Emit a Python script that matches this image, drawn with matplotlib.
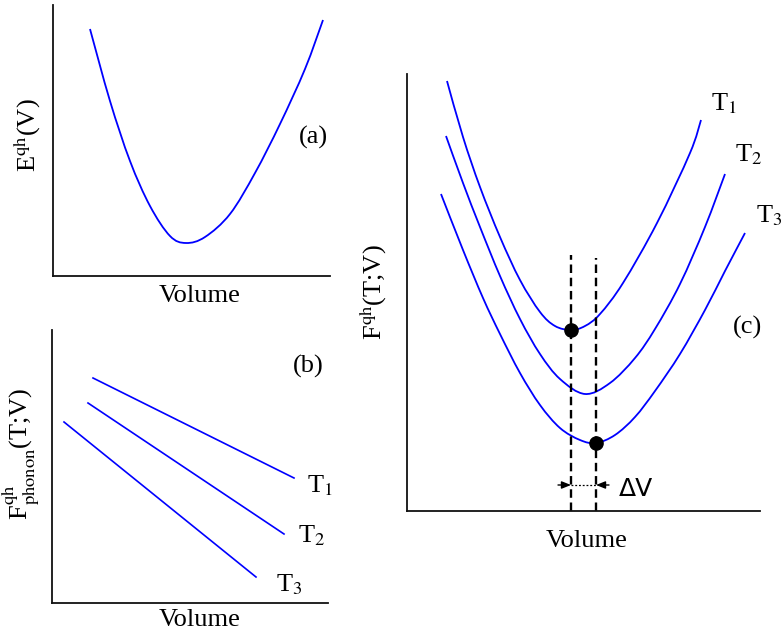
import matplotlib
matplotlib.use("Agg")
import matplotlib.pyplot as plt
from matplotlib.path import Path
from matplotlib.patches import PathPatch

plt.rcParams['font.family'] = ['Liberation Serif', 'DejaVu Serif']
plt.rcParams['mathtext.fontset'] = 'stix'

# ---------------- data (arbitrary units) ----------------
# Panel (a): quasi-harmonic energy vs volume
vol_a = [37, 57, 77, 97, 117, 133, 152, 177, 202, 227, 252, 270]
e_a   = [247, 175, 115, 70, 40, 33, 39, 62, 103, 152, 207, 256]

# Panel (b): phonon free energy (straight lines) for three temperatures
labels_T = ['1', '2', '3']
vol_b = [[41, 242], [36, 232], [12, 204]]
f_b   = [[225, 125], [200, 69], [181, 26]]

# Panel (c): total free energy curves for three temperatures
vol_c1 = [40, 56, 73, 93, 113, 133, 148, 164, 178, 193, 216, 250, 283, 294]
f_c1   = [430, 374, 324, 274, 231, 199, 185, 181, 185, 197, 228, 288, 358, 391]
vol_c2 = [39, 56, 73, 93, 113, 133, 153, 178, 203, 228, 248, 273, 298, 318]
f_c2   = [375, 328, 284, 235, 192, 157, 132, 117, 128, 153, 182, 227, 284, 337]
vol_c3 = [34, 56, 76, 93, 113, 133, 153, 173, 189, 208, 228, 248, 273, 298, 318, 338]
f_c3   = [317, 261, 213, 177, 138, 106, 83, 71, 68, 76, 94, 120, 157, 201, 240, 278]

# Equilibrium (minimum) points at T1 and T3
vol_min = [164, 189]
f_min   = [181, 68]

W, H = 783, 635
fig = plt.figure(figsize=(W / 100, H / 100), dpi=100)


def rect(l, t, r, b):
    return [l / W, (H - b) / H, (r - l) / W, (b - t) / H]


def fpos(x, y):
    return x / W, (H - y) / H


def style(ax, w, h):
    ax.set_xlim(0, w)
    ax.set_ylim(0, h)
    for s in ['top', 'right']:
        ax.spines[s].set_visible(False)
    for s in ['left', 'bottom']:
        ax.spines[s].set_linewidth(1.3)
        ax.spines[s].set_color('#111111')
    ax.set_xticks([])
    ax.set_yticks([])
    ax.patch.set_alpha(0)


def smooth_curve(ax, xs, ys, **kw):
    """Draw a smooth Bezier path through the read points (Catmull-Rom tangents)."""
    pts = list(zip(xs, ys))
    n = len(pts)
    verts = [pts[0]]
    codes = [Path.MOVETO]
    for i in range(n - 1):
        p0 = pts[i - 1] if i > 0 else pts[i]
        p1 = pts[i]
        p2 = pts[i + 1]
        p3 = pts[i + 2] if i + 2 < n else pts[i + 1]
        c1 = (p1[0] + (p2[0] - p0[0]) / 6.0, p1[1] + (p2[1] - p0[1]) / 6.0)
        c2 = (p2[0] - (p3[0] - p1[0]) / 6.0, p2[1] - (p3[1] - p1[1]) / 6.0)
        verts += [c1, c2, p2]
        codes += [Path.CURVE4] * 3
    patch = PathPatch(Path(verts, codes), fill=False, transform=ax.transData, **kw)
    ax.add_patch(patch)
    return patch


FS = 19
blue = '#0000ff'

# ---- panel (a)
axa = fig.add_axes(rect(53, 5, 330, 276))
style(axa, 277, 271)
smooth_curve(axa, vol_a, e_a, edgecolor=blue, lw=1.3, clip_on=False)
axa.text(260, 139, '(a)', fontsize=FS, ha='center', va='center')
fig.text(*fpos(200, 296), 'Volume', fontsize=FS, ha='center', va='center')
fig.text(*fpos(27, 135), r'E$^{\rm qh}$(V)', fontsize=FS, ha='center', va='center', rotation=90)

# ---- panel (b)
axb = fig.add_axes(rect(52, 330, 328, 603))
style(axb, 276, 273)
for v, f in zip(vol_b, f_b):
    axb.plot(v, f, color=blue, lw=1.2)
tb_pos = [(255, 111), (246, 61), (224, 12)]
for lab, (x, y) in zip(labels_T, tb_pos):
    axb.text(x, y, 'T$_{' + lab + '}$', fontsize=FS, ha='left', va='baseline')
axb.text(256, 237, '(b)', fontsize=FS, ha='center', va='center')
fig.text(*fpos(200, 620), 'Volume', fontsize=FS, ha='center', va='center')
fig.text(*fpos(20, 454), r'F$^{\rm qh}_{\rm phonon}$(T;V)', fontsize=FS, ha='center', va='center', rotation=90)

# ---- panel (c)
axc = fig.add_axes(rect(407, 74, 760, 511))
style(axc, 353, 437)
for v, f in [(vol_c1, f_c1), (vol_c2, f_c2), (vol_c3, f_c3)]:
    smooth_curve(axc, v, f, edgecolor=blue, lw=1.3, clip_on=False)
axc.vlines(vol_min[0], 0, 256, colors='black', lw=1.7, linestyles=[(0, (3.6, 2.0))])
axc.vlines(vol_min[1], 0, 253, colors='black', lw=1.7, linestyles=[(0, (3.6, 2.0))])
axc.plot(vol_min, f_min, 'o', color='black', ms=9.5, zorder=5, clip_on=False)
# Delta V indicator
ya = 26
axc.plot(vol_min, [ya, ya], color='black', lw=0.9, ls=(0, (1.5, 1.5)))
axc.annotate('', xy=(vol_min[0], ya), xytext=(vol_min[0] - 13, ya),
             arrowprops=dict(arrowstyle='-|>,head_length=0.55,head_width=0.22', color='black', lw=1.0,
                             shrinkA=0, shrinkB=0))
axc.annotate('', xy=(vol_min[1], ya), xytext=(vol_min[1] + 13, ya),
             arrowprops=dict(arrowstyle='-|>,head_length=0.55,head_width=0.22', color='black', lw=1.0,
                             shrinkA=0, shrinkB=0))
axc.text(212, 22, r'ΔV', fontsize=FS - 1, ha='left', va='center', family='DejaVu Sans')
tc_pos = [(304, 401), (328, 350), (349, 289)]
for lab, (x, y) in zip(labels_T, tc_pos):
    axc.text(x, y, 'T$_{' + lab + '}$', fontsize=FS, ha='left', va='baseline', clip_on=False)
axc.text(341, 184, '(c)', fontsize=FS, ha='center', va='center')
fig.text(*fpos(587, 541), 'Volume', fontsize=FS, ha='center', va='center')
fig.text(*fpos(373, 292), r'F$^{\rm qh}$(T;V)', fontsize=FS, ha='center', va='center', rotation=90)

fig.savefig('out.png', dpi=100)
